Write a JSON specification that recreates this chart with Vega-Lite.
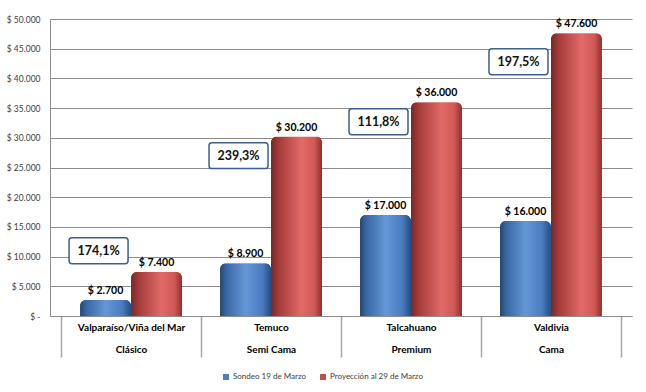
{
  "$schema": "https://vega.github.io/schema/vega-lite/v6.json",
  "width": 582,
  "height": 297,
  "autosize": "none",
  "padding": {"left": 50, "top": 19, "right": 14, "bottom": 76},
  "background": "white",
  "config": {
    "view": {"stroke": null},
    "font": "Lato",
    "locale": {"number": {"decimal": ",", "thousands": ".", "grouping": [3], "currency": ["$ ", ""]}},
    "axisY": {
      "title": null,
      "values": [0, 5000, 10000, 15000, 20000, 25000, 30000, 35000, 40000, 45000, 50000],
      "format": "$,d",
      "labelExpr": "datum.value === 0 ? '$ -' : datum.label",
      "labelOverlap": false,
      "grid": true,
      "gridColor": "#8c8c8c",
      "ticks": false,
      "labelPadding": 10,
      "domainColor": "#8c8c8c",
      "labelFontSize": 8.5,
      "labelColor": "#404040"
    }
  },
  "datasets": {
    "bars": [
      {"categoria": "Valparaíso/Viña del Mar|Clásico", "serie": "Sondeo 19 de Marzo", "valor": 2700},
      {"categoria": "Valparaíso/Viña del Mar|Clásico", "serie": "Proyección al 29 de Marzo", "valor": 7400},
      {"categoria": "Temuco|Semi Cama", "serie": "Sondeo 19 de Marzo", "valor": 8900},
      {"categoria": "Temuco|Semi Cama", "serie": "Proyección al 29 de Marzo", "valor": 30200},
      {"categoria": "Talcahuano|Premium", "serie": "Sondeo 19 de Marzo", "valor": 17000},
      {"categoria": "Talcahuano|Premium", "serie": "Proyección al 29 de Marzo", "valor": 36000},
      {"categoria": "Valdivia|Cama", "serie": "Sondeo 19 de Marzo", "valor": 16000},
      {"categoria": "Valdivia|Cama", "serie": "Proyección al 29 de Marzo", "valor": 47600}
    ],
    "notas": [
      {"categoria": "Valparaíso/Viña del Mar|Clásico", "serie": "Sondeo 19 de Marzo", "nivel": 11000, "variacion": 1.741},
      {"categoria": "Temuco|Semi Cama", "serie": "Sondeo 19 de Marzo", "nivel": 27000, "variacion": 2.393},
      {"categoria": "Talcahuano|Premium", "serie": "Sondeo 19 de Marzo", "nivel": 32700, "variacion": 1.118},
      {"categoria": "Valdivia|Cama", "serie": "Sondeo 19 de Marzo", "nivel": 42800, "variacion": 1.975}
    ]
  },
  "encoding": {
    "x": {
      "field": "categoria",
      "type": "nominal",
      "sort": null,
      "scale": {"paddingInner": 0, "paddingOuter": 0.079},
      "axis": {
        "title": null,
        "labelAngle": 0,
        "labelExpr": "split(datum.label, '|')",
        "tickBand": "extent",
        "tickOffset": -11,
        "tickSize": 41,
        "tickColor": "#a6a6a6",
        "tickWidth": 1.5,
        "domainColor": "#8c8c8c",
        "labelPadding": -35,
        "labelBaseline": "top",
        "labelFontWeight": "bold",
        "labelFontSize": 10,
        "labelLineHeight": 22,
        "labelColor": "#000000"
      }
    },
    "xOffset": {
      "field": "serie",
      "type": "nominal",
      "scale": {"domain": ["Sondeo 19 de Marzo", "Proyección al 29 de Marzo"], "paddingInner": 0, "paddingOuter": 0.373}
    }
  },
  "layer": [
    {
      "data": {"name": "bars"},
      "mark": {"type": "bar", "cornerRadiusTopLeft": 6, "cornerRadiusTopRight": 6},
      "encoding": {
        "y": {
          "field": "valor",
          "type": "quantitative",
          "title": null,
          "scale": {"domain": [0, 50000], "nice": false}
        },
        "color": {
          "field": "serie",
          "type": "nominal",
          "scale": {"domain": ["Sondeo 19 de Marzo", "Proyección al 29 de Marzo"], "range": ["#4F81BD", "#C0504D"]},
          "legend": {
            "title": null,
            "orient": "none",
            "direction": "horizontal",
            "legendX": 172,
            "legendY": 354,
            "symbolType": "square",
            "symbolSize": 36,
            "symbolStrokeWidth": 0,
            "labelFontSize": 8,
            "labelColor": "#404040",
            "labelOffset": 3,
            "columnPadding": 13
          }
        }
      }
    },
    {
      "data": {"name": "bars"},
      "transform": [{"filter": "datum.serie === 'Sondeo 19 de Marzo'"}],
      "mark": {
        "type": "bar",
        "cornerRadiusTopLeft": 6,
        "cornerRadiusTopRight": 6,
        "color": {
          "gradient": "linear", "x1": 0, "x2": 1, "y1": 0, "y2": 0,
          "stops": [
            {"offset": 0, "color": "#22466F"},
            {"offset": 0.12, "color": "#3867A3"},
            {"offset": 0.5, "color": "#6497D6"},
            {"offset": 0.82, "color": "#4A7DC0"},
            {"offset": 1, "color": "#274D7C"}
          ]
        }
      },
      "encoding": {"y": {"field": "valor", "type": "quantitative", "title": null}}
    },
    {
      "data": {"name": "bars"},
      "transform": [{"filter": "datum.serie === 'Proyección al 29 de Marzo'"}],
      "mark": {
        "type": "bar",
        "cornerRadiusTopLeft": 6,
        "cornerRadiusTopRight": 6,
        "color": {
          "gradient": "linear", "x1": 0, "x2": 1, "y1": 0, "y2": 0,
          "stops": [
            {"offset": 0, "color": "#7E2625"},
            {"offset": 0.15, "color": "#A33C3A"},
            {"offset": 0.6, "color": "#E26A67"},
            {"offset": 0.85, "color": "#CF5956"},
            {"offset": 1, "color": "#8E2F2D"}
          ]
        }
      },
      "encoding": {"y": {"field": "valor", "type": "quantitative", "title": null}}
    },
    {
      "data": {"name": "bars"},
      "mark": {"type": "text", "baseline": "bottom", "dy": -4, "fontWeight": "bold", "fontSize": 10.5, "color": "#000000"},
      "encoding": {
        "y": {"field": "valor", "type": "quantitative", "title": null},
        "text": {"field": "valor", "type": "quantitative", "format": "$,d"}
      }
    },
    {
      "data": {"name": "notas"},
      "mark": {
        "type": "point",
        "shape": "M -1.137 -0.44 L 0.663 -0.44 Q 0.763 -0.44 0.763 -0.34 L 0.763 0.34 Q 0.763 0.44 0.663 0.44 L -1.137 0.44 Q -1.237 0.44 -1.237 0.34 L -1.237 -0.34 Q -1.237 -0.44 -1.137 -0.44 Z",
        "size": 3481,
        "filled": true,
        "fill": "#ffffff",
        "fillOpacity": 1,
        "opacity": 1,
        "stroke": "#3C5F8E",
        "strokeWidth": 1.5
      },
      "encoding": {
        "y": {"field": "nivel", "type": "quantitative", "title": null}
      }
    },
    {
      "data": {"name": "notas"},
      "mark": {"type": "text", "dx": -7, "fontWeight": "bold", "fontSize": 12.5, "color": "#111111"},
      "encoding": {
        "y": {"field": "nivel", "type": "quantitative", "title": null},
        "text": {"field": "variacion", "type": "quantitative", "format": ".1%"}
      }
    }
  ]
}
